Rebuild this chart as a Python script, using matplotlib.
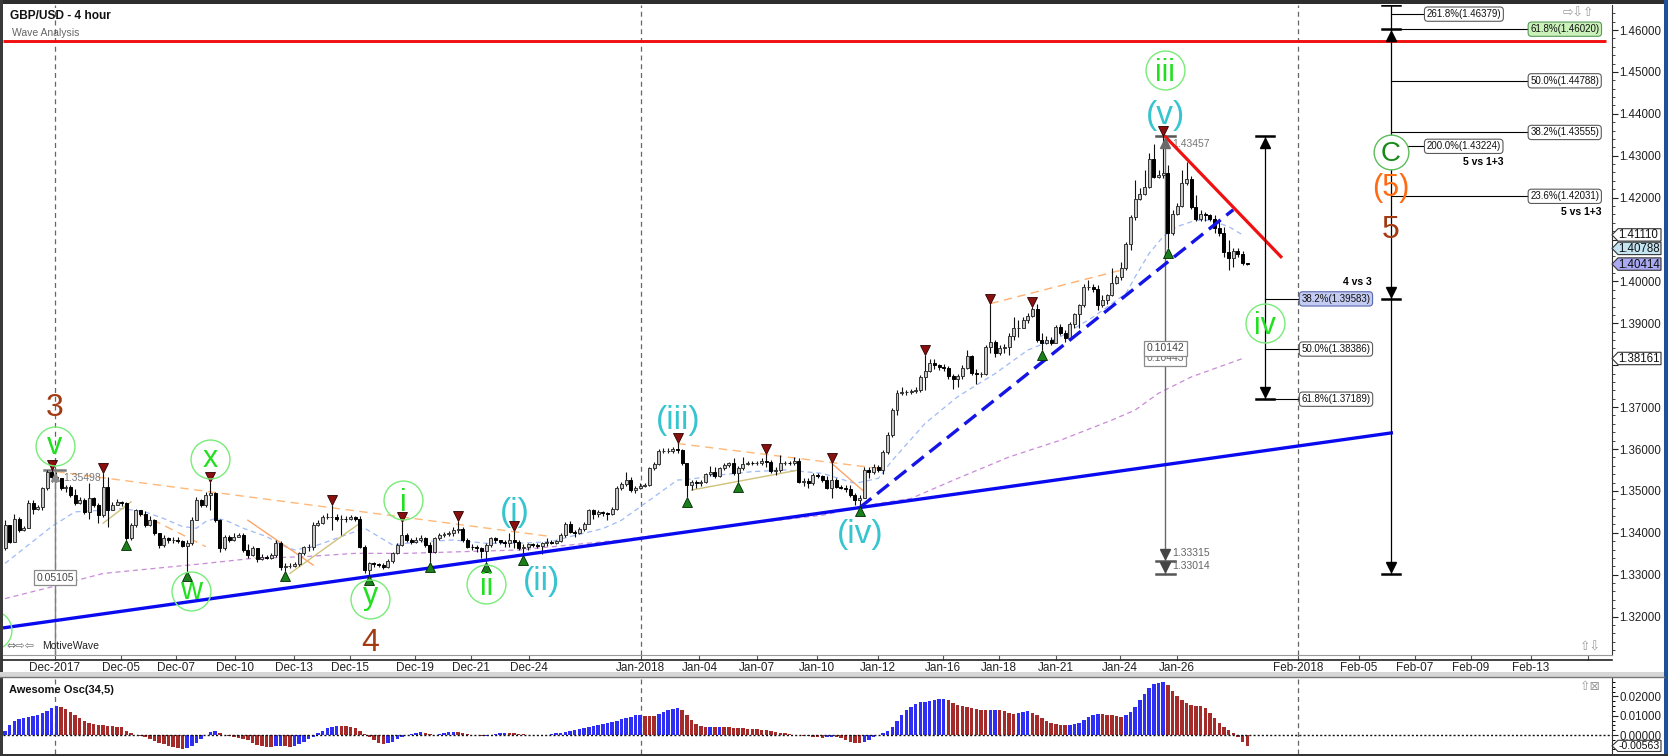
import numpy as np
import matplotlib
matplotlib.use("Agg")
import matplotlib.pyplot as plt
from matplotlib.patches import Polygon, Rectangle
from matplotlib.lines import Line2D
import matplotlib.transforms as mtransforms
from matplotlib.ticker import MultipleLocator, FormatStrFormatter, NullLocator, FuncFormatter

plt.rcParams['font.family'] = ['Liberation Sans', 'DejaVu Sans']

# ---------------- data (GBP/USD 4h candles) ----------------
first_open = 1.3363
close = [
    1.3419, 1.3379, 1.3434, 1.3407, 1.3411, 1.3470, 1.3458, 1.3462, 1.3506, 1.3546,
    1.3534, 1.3530, 1.3506, 1.3510, 1.3490, 1.3470, 1.3478, 1.3450, 1.3482, 1.3466,
    1.3442, 1.3510, 1.3454, 1.3466, 1.3474, 1.3470, 1.3387, 1.3419, 1.3454, 1.3446,
    1.3419, 1.3431, 1.3399, 1.3371, 1.3387, 1.3383, 1.3384, 1.3381, 1.3368, 1.3375,
    1.3431, 1.3478, 1.3466, 1.3490, 1.3494, 1.3431, 1.3363, 1.3389, 1.3384, 1.3391,
    1.3395, 1.3359, 1.3347, 1.3363, 1.3337, 1.3343, 1.3341, 1.3347, 1.3376, 1.3318,
    1.3321, 1.3321, 1.3325, 1.3351, 1.3365, 1.3367, 1.3419, 1.3423, 1.3437, 1.3437,
    1.3438, 1.3434, 1.3434, 1.3432, 1.3437, 1.3434, 1.3367, 1.3311, 1.3327, 1.3325,
    1.3323, 1.3318, 1.3333, 1.3351, 1.3371, 1.3395, 1.3383, 1.3379, 1.3384, 1.3387,
    1.3372, 1.3355, 1.3387, 1.3395, 1.3397, 1.3399, 1.3406, 1.3408, 1.3384, 1.3367,
    1.3365, 1.3363, 1.3357, 1.3371, 1.3387, 1.3383, 1.3379, 1.3376, 1.3383, 1.3379,
    1.3363, 1.3367, 1.3373, 1.3371, 1.3369, 1.3375, 1.3378, 1.3376, 1.3381, 1.3395,
    1.3421, 1.3403, 1.3399, 1.3410, 1.3422, 1.3454, 1.3446, 1.3450, 1.3448, 1.3445,
    1.3458, 1.3506, 1.3516, 1.3526, 1.3502, 1.3506, 1.3512, 1.3514, 1.3554, 1.3564,
    1.3596, 1.3596, 1.3596, 1.3599, 1.3598, 1.3566, 1.3514, 1.3522, 1.3518, 1.3522,
    1.3540, 1.3546, 1.3535, 1.3554, 1.3562, 1.3566, 1.3542, 1.3554, 1.3564, 1.3567,
    1.3566, 1.3567, 1.3572, 1.3570, 1.3548, 1.3550, 1.3567, 1.3567, 1.3566, 1.3572,
    1.3522, 1.3524, 1.3518, 1.3538, 1.3535, 1.3527, 1.3508, 1.3527, 1.3510, 1.3508,
    1.3504, 1.3490, 1.3478, 1.3484, 1.3549, 1.3545, 1.3557, 1.3551, 1.3593, 1.3633,
    1.3693, 1.3733, 1.3737, 1.3737, 1.3739, 1.3740, 1.3771, 1.3787, 1.3806, 1.3800,
    1.3796, 1.3794, 1.3774, 1.3766, 1.3774, 1.3794, 1.3822, 1.3782, 1.3779, 1.3779,
    1.3844, 1.3856, 1.3828, 1.3840, 1.3844, 1.3869, 1.3888, 1.3890, 1.3909, 1.3917,
    1.3935, 1.3861, 1.3853, 1.3861, 1.3853, 1.3892, 1.3877, 1.3864, 1.3898, 1.3922,
    1.3943, 1.3987, 1.3987, 1.3983, 1.3943, 1.3955, 1.3967, 1.3997, 1.4010, 1.4031,
    1.4089, 1.4154, 1.4196, 1.4209, 1.4226, 1.4292, 1.4250, 1.4254, 1.4259, 1.4115,
    1.4162, 1.4180, 1.4235, 1.4244, 1.4178, 1.4148, 1.4162, 1.4158, 1.4148, 1.4127,
    1.4115, 1.4071, 1.4055, 1.4073, 1.4065, 1.4043, 1.4041,
]
high = [
    1.3431, 1.3419, 1.3446, 1.3438, 1.3416, 1.3478, 1.3478, 1.3466, 1.3510, 1.3551,
    1.3550, 1.3546, 1.3532, 1.3514, 1.3514, 1.3504, 1.3485, 1.3482, 1.3518, 1.3485,
    1.3470, 1.3542, 1.3534, 1.3474, 1.3480, 1.3477, 1.3474, 1.3423, 1.3458, 1.3454,
    1.3453, 1.3440, 1.3434, 1.3400, 1.3395, 1.3391, 1.3391, 1.3389, 1.3384, 1.3383,
    1.3437, 1.3485, 1.3480, 1.3498, 1.3522, 1.3498, 1.3434, 1.3395, 1.3395, 1.3399,
    1.3400, 1.3399, 1.3373, 1.3368, 1.3363, 1.3349, 1.3348, 1.3353, 1.3383, 1.3380,
    1.3327, 1.3327, 1.3331, 1.3355, 1.3368, 1.3373, 1.3427, 1.3431, 1.3442, 1.3448,
    1.3466, 1.3445, 1.3442, 1.3440, 1.3442, 1.3440, 1.3440, 1.3371, 1.3331, 1.3330,
    1.3329, 1.3327, 1.3337, 1.3355, 1.3375, 1.3427, 1.3399, 1.3387, 1.3391, 1.3395,
    1.3391, 1.3379, 1.3391, 1.3399, 1.3403, 1.3405, 1.3414, 1.3429, 1.3414, 1.3387,
    1.3373, 1.3371, 1.3367, 1.3375, 1.3391, 1.3391, 1.3384, 1.3383, 1.3399, 1.3405,
    1.3383, 1.3373, 1.3376, 1.3376, 1.3375, 1.3379, 1.3387, 1.3383, 1.3384, 1.3399,
    1.3426, 1.3429, 1.3406, 1.3414, 1.3426, 1.3458, 1.3458, 1.3454, 1.3453, 1.3450,
    1.3461, 1.3511, 1.3522, 1.3546, 1.3534, 1.3511, 1.3518, 1.3518, 1.3558, 1.3570,
    1.3599, 1.3602, 1.3602, 1.3606, 1.3615, 1.3599, 1.3567, 1.3527, 1.3526, 1.3526,
    1.3543, 1.3559, 1.3558, 1.3558, 1.3567, 1.3570, 1.3578, 1.3559, 1.3582, 1.3572,
    1.3571, 1.3572, 1.3578, 1.3588, 1.3574, 1.3558, 1.3586, 1.3572, 1.3572, 1.3582,
    1.3578, 1.3530, 1.3530, 1.3542, 1.3542, 1.3538, 1.3535, 1.3566, 1.3530, 1.3514,
    1.3514, 1.3514, 1.3496, 1.3490, 1.3558, 1.3557, 1.3565, 1.3561, 1.3597, 1.3641,
    1.3697, 1.3740, 1.3748, 1.3742, 1.3744, 1.3748, 1.3776, 1.3824, 1.3814, 1.3814,
    1.3804, 1.3803, 1.3798, 1.3780, 1.3780, 1.3800, 1.3836, 1.3824, 1.3792, 1.3784,
    1.3848, 1.3947, 1.3860, 1.3848, 1.3850, 1.3876, 1.3916, 1.3908, 1.3916, 1.3924,
    1.3939, 1.3947, 1.3876, 1.3869, 1.3868, 1.3896, 1.3898, 1.3884, 1.3904, 1.3925,
    1.3947, 1.3995, 1.4003, 1.3995, 1.3991, 1.3967, 1.3971, 1.4031, 1.4015, 1.4047,
    1.4095, 1.4158, 1.4242, 1.4222, 1.4266, 1.4306, 1.4329, 1.4266, 1.4346, 1.4278,
    1.4170, 1.4186, 1.4266, 1.4286, 1.4252, 1.4206, 1.4170, 1.4166, 1.4162, 1.4158,
    1.4150, 1.4131, 1.4099, 1.4079, 1.4079, 1.4073, 1.4045,
]
low = [
    1.3359, 1.3375, 1.3379, 1.3403, 1.3405, 1.3411, 1.3446, 1.3454, 1.3454, 1.3502,
    1.3522, 1.3522, 1.3502, 1.3498, 1.3486, 1.3466, 1.3469, 1.3446, 1.3434, 1.3462,
    1.3423, 1.3438, 1.3415, 1.3454, 1.3466, 1.3464, 1.3383, 1.3384, 1.3413, 1.3440,
    1.3415, 1.3416, 1.3395, 1.3363, 1.3367, 1.3375, 1.3376, 1.3375, 1.3365, 1.3310,
    1.3371, 1.3431, 1.3462, 1.3462, 1.3454, 1.3427, 1.3355, 1.3360, 1.3379, 1.3381,
    1.3391, 1.3355, 1.3341, 1.3345, 1.3331, 1.3335, 1.3337, 1.3337, 1.3343, 1.3311,
    1.3310, 1.3315, 1.3319, 1.3321, 1.3347, 1.3357, 1.3359, 1.3416, 1.3421, 1.3432,
    1.3407, 1.3429, 1.3395, 1.3427, 1.3431, 1.3429, 1.3363, 1.3305, 1.3299, 1.3319,
    1.3318, 1.3313, 1.3315, 1.3329, 1.3349, 1.3368, 1.3379, 1.3373, 1.3376, 1.3379,
    1.3365, 1.3331, 1.3352, 1.3384, 1.3391, 1.3392, 1.3392, 1.3399, 1.3379, 1.3363,
    1.3359, 1.3355, 1.3339, 1.3331, 1.3367, 1.3376, 1.3373, 1.3367, 1.3367, 1.3363,
    1.3360, 1.3347, 1.3360, 1.3367, 1.3363, 1.3349, 1.3368, 1.3373, 1.3373, 1.3379,
    1.3391, 1.3399, 1.3389, 1.3397, 1.3405, 1.3421, 1.3434, 1.3437, 1.3440, 1.3430,
    1.3442, 1.3454, 1.3502, 1.3511, 1.3498, 1.3496, 1.3504, 1.3510, 1.3511, 1.3550,
    1.3562, 1.3590, 1.3590, 1.3591, 1.3590, 1.3562, 1.3486, 1.3502, 1.3508, 1.3511,
    1.3518, 1.3535, 1.3532, 1.3534, 1.3550, 1.3558, 1.3538, 1.3522, 1.3550, 1.3562,
    1.3562, 1.3562, 1.3562, 1.3558, 1.3543, 1.3538, 1.3546, 1.3562, 1.3562, 1.3562,
    1.3518, 1.3511, 1.3506, 1.3514, 1.3530, 1.3522, 1.3504, 1.3482, 1.3506, 1.3504,
    1.3498, 1.3486, 1.3467, 1.3464, 1.3482, 1.3530, 1.3541, 1.3545, 1.3541, 1.3589,
    1.3629, 1.3681, 1.3729, 1.3729, 1.3731, 1.3733, 1.3737, 1.3740, 1.3784, 1.3792,
    1.3788, 1.3787, 1.3768, 1.3744, 1.3748, 1.3768, 1.3790, 1.3776, 1.3756, 1.3772,
    1.3776, 1.3828, 1.3820, 1.3824, 1.3828, 1.3824, 1.3860, 1.3868, 1.3888, 1.3900,
    1.3914, 1.3856, 1.3836, 1.3850, 1.3848, 1.3852, 1.3872, 1.3856, 1.3864, 1.3888,
    1.3888, 1.3939, 1.3979, 1.3975, 1.3931, 1.3940, 1.3947, 1.3965, 1.3994, 1.4003,
    1.4027, 1.4075, 1.4146, 1.4194, 1.4206, 1.4222, 1.4246, 1.4248, 1.4246, 1.4079,
    1.4111, 1.4158, 1.4177, 1.4230, 1.4174, 1.4143, 1.4145, 1.4145, 1.4143, 1.4115,
    1.4108, 1.4059, 1.4027, 1.4035, 1.4059, 1.4039, 1.4038,
]
# Awesome Oscillator (34,5), one value per candle
ao = [
    0.0022, 0.0052, 0.0074, 0.0081, 0.0088, 0.0093, 0.0098, 0.0104, 0.0112, 0.0124,
    0.0138, 0.0150, 0.0147, 0.0136, 0.0121, 0.0104, 0.0086, 0.0074, 0.0064, 0.0057,
    0.0052, 0.0050, 0.0048, 0.0045, 0.0041, 0.0040, 0.0021, 0.0009, 0.0002, -0.0005,
    -0.0012, -0.0021, -0.0029, -0.0040, -0.0048, -0.0057, -0.0064, -0.0069, -0.0073, -0.0067,
    -0.0055, -0.0040, -0.0022, 0.0001, 0.0017, 0.0022, 0.0009, -0.0001, -0.0005, -0.0009,
    -0.0017, -0.0022, -0.0026, -0.0043, -0.0052, -0.0057, -0.0060, -0.0061, -0.0057, -0.0055,
    -0.0057, -0.0060, -0.0057, -0.0047, -0.0035, -0.0022, -0.0009, 0.0009, 0.0022, 0.0035,
    0.0043, 0.0047, 0.0046, 0.0045, 0.0043, 0.0035, 0.0022, 0.0005, -0.0012, -0.0026,
    -0.0040, -0.0047, -0.0043, -0.0035, -0.0022, -0.0009, 0.0001, 0.0005, 0.0012, 0.0016,
    0.0012, 0.0003, 0.0002, 0.0003, 0.0009, 0.0014, 0.0017, 0.0014, 0.0009, 0.0005,
    0.0002, -0.0002, -0.0005, -0.0003, 0.0000, 0.0003, 0.0009, 0.0012, 0.0011, 0.0010,
    0.0005, 0.0003, 0.0002, 0.0000, -0.0001, -0.0002, 0.0002, 0.0005, 0.0009, 0.0012,
    0.0016, 0.0019, 0.0024, 0.0029, 0.0035, 0.0040, 0.0045, 0.0050, 0.0055, 0.0060,
    0.0067, 0.0074, 0.0081, 0.0088, 0.0095, 0.0102, 0.0104, 0.0100, 0.0098, 0.0097,
    0.0109, 0.0119, 0.0128, 0.0135, 0.0140, 0.0130, 0.0104, 0.0078, 0.0057, 0.0047,
    0.0041, 0.0043, 0.0041, 0.0042, 0.0040, 0.0039, 0.0038, 0.0036, 0.0035, 0.0033,
    0.0031, 0.0029, 0.0028, 0.0026, 0.0021, 0.0016, 0.0012, 0.0009, 0.0005, 0.0002,
    0.0000, -0.0003, -0.0007, -0.0009, -0.0012, -0.0016, -0.0012, -0.0009, -0.0012, -0.0017,
    -0.0026, -0.0035, -0.0043, -0.0044, -0.0036, -0.0026, -0.0012, 0.0000, 0.0012, 0.0022,
    0.0043, 0.0073, 0.0104, 0.0130, 0.0147, 0.0161, 0.0169, 0.0171, 0.0174, 0.0181,
    0.0185, 0.0188, 0.0181, 0.0168, 0.0155, 0.0150, 0.0143, 0.0138, 0.0135, 0.0131,
    0.0130, 0.0131, 0.0131, 0.0130, 0.0124, 0.0116, 0.0109, 0.0116, 0.0121, 0.0123,
    0.0116, 0.0104, 0.0086, 0.0074, 0.0064, 0.0057, 0.0052, 0.0050, 0.0054, 0.0057,
    0.0064, 0.0078, 0.0092, 0.0104, 0.0109, 0.0107, 0.0105, 0.0102, 0.0097, 0.0095,
    0.0102, 0.0121, 0.0147, 0.0181, 0.0212, 0.0242, 0.0264, 0.0271, 0.0276, 0.0259,
    0.0230, 0.0202, 0.0181, 0.0164, 0.0154, 0.0150, 0.0149, 0.0138, 0.0112, 0.0086,
    0.0064, 0.0043, 0.0026, 0.0009, -0.0012, -0.0035, -0.0056,
]
fast_ma_bars = [0, 10, 15, 21, 25, 30, 34, 38, 41, 43, 45, 47, 51, 56, 60, 62, 64, 66, 70, 75,
                77, 80, 83, 86, 90, 96, 103, 110, 117, 121, 128, 132, 135, 139, 144, 146, 153, 160, 167, 175,
                182, 187, 190, 197, 204, 212, 219, 226, 233, 240, 242, 245, 248, 251, 255, 258, 262, 265]
fast_ma = [1.3327, 1.3415, 1.3450, 1.3454, 1.3458, 1.3450, 1.3434, 1.3415, 1.3411, 1.3427,
           1.3434, 1.3431, 1.3411, 1.3391, 1.3367, 1.3359, 1.3363, 1.3367, 1.3383, 1.3403,
           1.3411, 1.3391, 1.3371, 1.3375, 1.3379, 1.3383, 1.3375, 1.3375, 1.3379, 1.3391,
           1.3410, 1.3430, 1.3454, 1.3486, 1.3526, 1.3527, 1.3538, 1.3546, 1.3550, 1.3542,
           1.3518, 1.3530, 1.3573, 1.3661, 1.3725, 1.3780, 1.3836, 1.3868, 1.3915, 1.3971,
           1.4011, 1.4067, 1.4107, 1.4131, 1.4146, 1.4146, 1.4131, 1.4111]
slow_ma_bars = [0, 10, 21, 32, 43, 53, 64, 75, 86, 92, 110, 132, 153, 175, 187, 194, 204, 215,
                226, 237, 242, 247, 254, 260, 265]
slow_ma = [1.3243, 1.3271, 1.3303, 1.3315, 1.3327, 1.3339, 1.3343, 1.3351, 1.3351, 1.3353,
           1.3359, 1.3383, 1.3414, 1.3442, 1.3470, 1.3482, 1.3530, 1.3581, 1.3621, 1.3669,
           1.3693, 1.3733, 1.3772, 1.3796, 1.3816]
swing_high_bars = [10, 21, 44, 70, 85, 97, 109, 144, 163, 177, 197, 211, 220, 248]
swing_low_bars = [26, 39, 60, 78, 91, 103, 111, 146, 157, 183, 222, 249]
tick_bars = [10.7, 24.8, 36.7, 49.2, 61.8, 73.8, 87.8, 99.7, 112.1, 136.1, 148.7, 161.0,
             173.8, 186.9, 200.9, 212.8, 225.1, 238.8, 250.9, 276.8, 289.9, 301.9, 313.9,
             326.7, 339.0]
tick_labels = ['Dec-2017', 'Dec-05', 'Dec-07', 'Dec-10', 'Dec-13', 'Dec-15', 'Dec-19',
               'Dec-21', 'Dec-24', 'Jan-2018', 'Jan-04', 'Jan-07', 'Jan-10', 'Jan-12',
               'Jan-16', 'Jan-18', 'Jan-21', 'Jan-24', 'Jan-26', 'Feb-2018', 'Feb-05',
               'Feb-07', 'Feb-09', 'Feb-13', '']
month_lines = [10.7, 136.1, 276.8]
resistance = 1.4574
# fib levels: (label, price)
fib_big_left = [('261.8%(1.46379)', 1.46379), ('200.0%(1.43224)', 1.43224)]
fib_big_right = [('61.8%(1.46020)', 1.46020), ('50.0%(1.44788)', 1.44788),
                 ('38.2%(1.43555)', 1.43555), ('23.6%(1.42031)', 1.42031)]
fib_small = [('38.2%(1.39583)', 1.39583), ('50.0%(1.38386)', 1.38386), ('61.8%(1.37189)', 1.37189)]
last_tags = [('1.41110', 1.41110, 'white'), ('1.40788', 1.40788, '#c4e4f2'),
             ('1.40414', 1.40414, '#a9a9f4'), ('1.38161', 1.38161, 'white')]
hidden_price_labels = [1.41, 1.38]
ao_tag = ('-0.00563', -0.00563)

# ---------------- figure layout (pixel based) ----------------
W, H = 1668, 756
fig = plt.figure(figsize=(W / 100, H / 100), dpi=100)
fig.patch.set_facecolor('white')
ident = mtransforms.IdentityTransform()


def frect(x0, y0, x1, y1):
    return [x0 / W, 1 - y1 / H, (x1 - x0) / W, (y1 - y0) / H]


ax = fig.add_axes(frect(3, 5, 1612, 655))
ax2 = fig.add_axes(frect(3, 677, 1612, 754))
XMIN, XMAX = -0.43, 344.1
for a in (ax, ax2):
    a.set_xlim(XMIN, XMAX)
    a.set_facecolor('white')
ax.set_ylim(1.31084, 1.46597)
ax2.set_ylim(-0.00984, 0.03005)

n = len(close)
idx = np.arange(n)
c = np.array(close)
h = np.array(high)
l = np.array(low)
o = np.concatenate([[first_open], c[:-1]])
up = c >= o

# month separators
for a in (ax, ax2):
    for mb in month_lines:
        a.axvline(mb, color='#666666', lw=0.9, dashes=(4, 3), zorder=1)

# moving averages
ax.plot(fast_ma_bars, fast_ma, color='#9fbaf7', lw=0.9, dashes=(4, 3), zorder=2)
ax.plot(slow_ma_bars, slow_ma, color='#c98bd6', lw=0.9, dashes=(4, 3), zorder=2)

# small channel lines
thin = [((11, 1.3546), (117, 1.3391), '#ffb878', True),
        ((29, 1.3446), (43, 1.3367), '#ffb070', True),
        ((52, 1.3430), (66, 1.3323), '#ffa468', False),
        ((21, 1.3423), (27, 1.3474), '#cfc27a', False),
        ((61, 1.3303), (76, 1.3423), '#cfc27a', False),
        ((144, 1.3613), (187, 1.3554), '#ffb878', True),
        ((147, 1.3502), (170, 1.3550), '#cfc27a', False),
        ((177, 1.3566), (184, 1.3498), '#ffa468', False),
        ((211, 1.3947), (239, 1.4027), '#ffb070', True)]
for p0, p1, col, dashed in thin:
    kw = dict(dashes=(6, 4)) if dashed else {}
    ax.plot([p0[0], p1[0]], [p0[1], p1[1]], color=col, lw=1.0, zorder=2, **kw)

# gray measure lines
ax.plot([10.7, 10.7], [1.3549, 1.30], color='#808080', lw=1.0, zorder=2)
ax.plot([8.3, 12.8], [1.3549, 1.3549], color='#7a7a7a', lw=1.8, zorder=3)
ax.plot([248.4, 248.4], [1.4346, 1.3302], color='#6a6a6a', lw=1.0, zorder=2)
for pr in (1.4346, 1.3333, 1.3302):
    ax.plot([246.4, 250.5], [pr, pr], color='#555555', lw=1.8, zorder=3)

# candles
ax.vlines(idx, l, h, color='#111111', lw=0.8, zorder=3)
ax.bar(idx[up], c[up] - o[up], bottom=o[up], width=0.64, color='#c6c6c6',
       edgecolor='#333333', linewidth=0.7, zorder=4)
ax.bar(idx[~up], c[~up] - o[~up], bottom=o[~up], width=0.64, color='black',
       edgecolor='black', linewidth=0.7, zorder=4)

# trendlines
ax.plot([XMIN, 297.2], [1.3173, 1.3639], color='#0a0af0', lw=2.4, zorder=5, solid_capstyle='butt')
ax.plot([183.0, 263.0], [1.3460, 1.4171], color='#1414e6', lw=2.4, dashes=(4.5, 2.2), zorder=5)
ax.plot([248.5, 273.2], [1.4345, 1.4059], color='#f01010', lw=2.3, zorder=6)
ax.plot([XMIN, 342.8], [resistance, resistance], color='#f01010', lw=2.1, zorder=5,
        solid_capstyle='butt')

# swing markers
tr_up = mtransforms.offset_copy(ax.transData, fig=fig, x=0, y=5, units='dots')
tr_dn = mtransforms.offset_copy(ax.transData, fig=fig, x=0, y=-5, units='dots')
ax.plot(swing_high_bars, h[swing_high_bars], ls='none', marker='v', ms=7.5,
        mfc='#8a0f0f', mec='#2a0000', mew=0.6, transform=tr_up, zorder=7)
ax.plot(swing_low_bars, l[swing_low_bars], ls='none', marker='^', ms=7.5,
        mfc='#1b801b', mec='#002a00', mew=0.6, transform=tr_dn, zorder=7)

# fib tools (black)
tr_a_dn = mtransforms.offset_copy(ax.transData, fig=fig, x=0, y=-7, units='dots')
tr_a_up = mtransforms.offset_copy(ax.transData, fig=fig, x=0, y=7, units='dots')
ax.plot([269.8, 269.8], [1.4347, 1.3719], color='black', lw=0.9, zorder=6)
for pr in (1.4347, 1.3719):
    ax.plot([267.8, 271.8], [pr, pr], color='black', lw=1.8, zorder=6)
ax.plot([269.8], [1.4347], marker='^', ms=7, color='black', transform=tr_a_dn, zorder=6)
ax.plot([269.8], [1.3719], marker='v', ms=7, color='black', transform=tr_a_up, zorder=6)
ax.plot([296.8, 296.8], [1.3301, 1.4700], color='black', lw=0.9, zorder=6)
for pr in (1.4660, 1.4602, 1.3958, 1.3301):
    ax.plot([294.9, 298.8], [pr, pr], color='black', lw=1.8, zorder=6)
ax.plot([296.8], [1.4602], marker='^', ms=7, color='black', transform=tr_a_dn, zorder=6)
ax.plot([296.8], [1.3958], marker='v', ms=7, color='black', transform=tr_a_up, zorder=6)
ax.plot([296.8], [1.3301], marker='v', ms=7, color='black', transform=tr_a_up, zorder=6)
ax.plot([248.4], [1.4346], marker='^', ms=6.5, color='#6a6a6a', transform=tr_a_dn, zorder=6)
ax.plot([248.4, 248.4], [1.3333, 1.3302], ls='none', marker='v', ms=6.5, color='#444444',
        transform=tr_a_up, zorder=6)
ax.plot([10.7], [1.3549], marker='^', ms=5.5, color='#8a8a8a', transform=tr_a_dn, zorder=6)

box_kw = dict(boxstyle='round,pad=0.22,rounding_size=0.35', fc='white', ec='#5a5a5a', lw=0.8)
for lab, pr in fib_big_left:
    ax.plot([296.8, 303.9], [pr, pr], color='black', lw=0.8, zorder=6)
    ax.text(304.4, pr, lab, ha='left', va='center', fontsize=7, color='#111111', bbox=box_kw, zorder=8)
for lab, pr in fib_big_right:
    ax.plot([296.8, 326.1], [pr, pr], color='black', lw=0.8, zorder=6)
    kw = dict(box_kw)
    if lab.startswith('61.8'):
        kw.update(fc='#c9f1b9', ec='#5a9a5a')
    ax.text(326.6, pr, lab, ha='left', va='center', fontsize=7, color='#111111', bbox=kw, zorder=8)
for lab, pr in fib_small:
    ax.plot([269.8, 277.1], [pr, pr], color='black', lw=0.8, zorder=6)
    kw = dict(box_kw)
    if lab.startswith('38.2'):
        kw.update(fc='#c3cbf2', ec='#5a68b0')
    ax.text(277.6, pr, lab, ha='left', va='center', fontsize=7, color='#111111', bbox=kw, zorder=8)
ax.text(320.8, 1.4285, '5 vs 1+3', ha='right', va='center', fontsize=7.5, fontweight='bold', zorder=8)
ax.text(341.8, 1.4166, '5 vs 1+3', ha='right', va='center', fontsize=7.5, fontweight='bold', zorder=8)
ax.text(292.7, 1.3999, '4 vs 3', ha='right', va='center', fontsize=7.5, fontweight='bold', zorder=8)

# measurement texts
gbox = dict(boxstyle='square,pad=0.25', fc='white', ec='#8a8a8a', lw=0.9)
ax.text(12.4, 1.3531, '1.35498', ha='left', va='center', fontsize=7.5, color='#777777', zorder=8)
ax.text(10.7, 1.3293, '0.05105', ha='center', va='center', fontsize=7.5, color='#444444', bbox=gbox, zorder=8)
ax.text(248.4, 1.3817, '0.10443', ha='center', va='center', fontsize=7.5, color='#666666', bbox=gbox, zorder=8)
ax.text(248.4, 1.3840, '0.10142', ha='center', va='center', fontsize=7.5, color='#444444', bbox=gbox, zorder=8)
ax.text(249.9, 1.4328, '1.43457', ha='left', va='center', fontsize=7.5, color='#777777', zorder=5)
ax.text(249.9, 1.3352, '1.33315', ha='left', va='center', fontsize=7.5, color='#666666', zorder=8)
ax.text(249.9, 1.3321, '1.33014', ha='left', va='center', fontsize=7.5, color='#666666', zorder=8)

# wave labels
green_c = [('v', 10.6, 1.3608), ('x', 44.0, 1.3576), ('w', 39.8, 1.3261), ('i', 85.2, 1.3478),
           ('y', 78.2, 1.3242), ('ii', 103.1, 1.3278), ('iii', 248.4, 1.4505), ('iv', 269.8, 1.3900),
           ('', -2.8, 1.3168)]
for s, xb, pr in green_c:
    ax.plot([xb], [pr], marker='o', ms=28, mfc='none', mec='#78ec78', mew=1.0, zorder=8)
    if s:
        dy = 0.0
        if s[0] == 'i':
            dy = -2.2
        if s == 'y':
            dy = 2.2
        ax.annotate(s, (xb, pr), xytext=(0, dy), textcoords='offset points', ha='center',
                    va='center', fontsize=22, color='#20e020', zorder=9)
cyan = [('(i)', 109.1, 1.3448), ('(ii)', 114.8, 1.3285), ('(iii)', 144.2, 1.3669),
        ('(iv)', 183.1, 1.3395), ('(v)', 248.4, 1.4397)]
for s, xb, pr in cyan:
    ax.text(xb, pr, s, ha='center', va='center', fontsize=24, color='#36c4cf', zorder=9)
for s, xb, pr in [('3', 10.6, 1.3705), ('4', 78.3, 1.3144), ('5', 296.8, 1.4131)]:
    ax.annotate(s, (xb, pr), xytext=(0, -2.4), textcoords='offset points', ha='center',
                va='center', fontsize=23, color='#a23a12', zorder=9)
ax.text(296.8, 1.4222, '(5)', ha='center', va='center', fontsize=22, color='#ff6a12', zorder=9)
ax.plot([296.8], [1.4310], marker='o', ms=25, mfc='white', mec='#5cbc5c', mew=1.0, zorder=8)
ax.annotate('C', (296.8, 1.4310), xytext=(0, -2.0), textcoords='offset points', ha='center',
            va='center', fontsize=20, color='#168a16', zorder=9)


# axes styling (main)
def price_fmt(v, pos):
    for hv in hidden_price_labels:
        if abs(v - hv) < 1e-6:
            return ''
    return '%.5f' % v


ax.yaxis.tick_right()
ax.yaxis.set_major_locator(MultipleLocator(0.01))
ax.yaxis.set_minor_locator(MultipleLocator(0.002))
ax.yaxis.set_major_formatter(FuncFormatter(price_fmt))
ax.tick_params(axis='y', which='major', direction='out', length=4.5, width=0.8, labelsize=8.3,
               pad=0.8, colors='#222222')
ax.tick_params(axis='y', which='minor', direction='out', length=2.5, width=0.7, colors='#444444')
ax.set_xticks(tick_bars)
ax.set_xticklabels(tick_labels)
ax.xaxis.set_minor_locator(NullLocator())
ax.tick_params(axis='x', direction='out', length=3.6, width=0.8, labelsize=8.5, pad=1.6,
               colors='#555555', labelcolor='#222222')
for sname in ('top', 'left'):
    ax.spines[sname].set_visible(False)
ax.spines['right'].set_color('#333333')
ax.spines['bottom'].set_color('#999999')

# oscillator
ao_arr = np.array(ao)
rising = np.concatenate([[True], np.diff(ao_arr) >= 0])
ax2.bar(idx, ao_arr, width=0.74, color=np.where(rising, '#2f2ff3', '#a52a2a'), zorder=3)
ax2.axhline(0, color='#111111', lw=1.0, dashes=(1.5, 1.5), zorder=4)
ax2.yaxis.tick_right()
ax2.set_yticks([0.0, 0.01, 0.02])
ax2.yaxis.set_major_formatter(FormatStrFormatter('%.5f'))
ax2.yaxis.set_minor_locator(MultipleLocator(0.0025))
ax2.tick_params(axis='y', which='major', direction='out', length=4.5, width=0.8, labelsize=8.3,
                pad=0.8, colors='#222222')
ax2.tick_params(axis='y', which='minor', direction='out', length=2.5, width=0.7)
ax2.set_xticks([])
for sname in ('top', 'left', 'bottom'):
    ax2.spines[sname].set_visible(False)
ax2.spines['right'].set_color('#333333')
ax2.text(0.0035, 0.83, 'Awesome Osc(34,5)', transform=ax2.transAxes, fontsize=8,
         fontweight='bold', color='#111111', ha='left', va='center')


# price tags on the right axis
def tag(axis, val, text, fc, half=6.2, fs=8.3):
    yd = axis.transData.transform((0, val))[1]
    x0 = axis.transAxes.transform((1, 0))[0]
    pts = [(x0, yd), (x0 + 6, yd + half), (x0 + 49, yd + half), (x0 + 49, yd - half), (x0 + 6, yd - half)]
    fig.add_artist(Polygon(pts, closed=True, fc=fc, ec='#333333', lw=0.8, transform=ident, zorder=10))
    fig.text(x0 + 6.5, yd - 0.5, text, transform=ident, ha='left', va='center', fontsize=fs,
             color='#111111', zorder=11)


fig.canvas.draw()
for text, val, fc in last_tags:
    tag(ax, val, text, fc)
tag(ax2, ao_tag[1], ao_tag[0], 'white', half=5.6, fs=7.6)


# frame decorations in image pixels
def P(x, y):
    return (x, H - y)


fig.add_artist(Rectangle(P(0, 4), W, 4, transform=ident, fc='#2e2e2e', ec='none', zorder=12))
fig.add_artist(Rectangle(P(0, H), 2.5, H, transform=ident, fc='#3a3a3a', ec='none', zorder=12))
fig.add_artist(Rectangle(P(1664, H), 4, H, transform=ident, fc='#1f4f98', ec='none', zorder=12))
fig.add_artist(Rectangle(P(0, H), W, 2, transform=ident, fc='#333333', ec='none', zorder=12))
fig.add_artist(Rectangle(P(0, 677), 1664, 5, transform=ident, fc='#d6d6d6', ec='none', zorder=12))
fig.add_artist(Line2D([0, 1664], [H - 677, H - 677], transform=ident, color='#777777', lw=1.0, zorder=12))
fig.add_artist(Line2D([3, 1612], [H - 660, H - 660], transform=ident, color='#222222', lw=1.2, zorder=12))

fig.text(*P(10, 16), 'GBP/USD - 4 hour', transform=ident, fontsize=8.6, fontweight='bold',
         color='#111111', ha='left', va='center')
fig.text(*P(12, 33), 'Wave Analysis', transform=ident, fontsize=7.5, color='#666666',
         ha='left', va='center')
fig.text(*P(42, 646), 'MotiveWave', transform=ident, fontsize=7.5, color='#222222',
         ha='left', va='center')
fig.text(*P(6, 646), '\u21d4\u21e8\u21e6', transform=ident, fontsize=8, color='#777777',
         ha='left', va='center', family=['DejaVu Sans'])
fig.text(*P(1563, 13), '\u21e8\u21e9\u21e7', transform=ident, fontsize=9, color='#999999',
         ha='left', va='center', family=['DejaVu Sans'])
fig.text(*P(1580, 647), '\u21e7\u21e9', transform=ident, fontsize=9, color='#999999',
         ha='left', va='center', family=['DejaVu Sans'])
fig.text(*P(1580, 686), '\u21e7\u22a0', transform=ident, fontsize=9, color='#999999',
         ha='left', va='center', family=['DejaVu Sans'])

fig.savefig('out.png', dpi=100, facecolor='white')
